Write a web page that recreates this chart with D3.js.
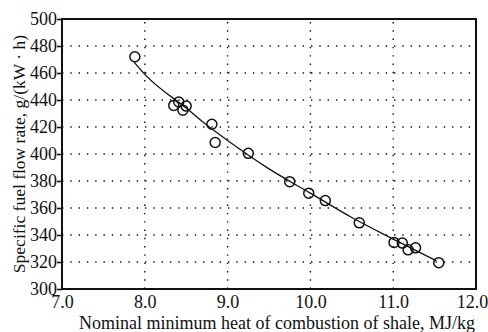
<!DOCTYPE html>
<html lang="en">
<head>
    <meta charset="UTF-8">
    <title>Specific fuel flow rate</title>
    <script src="https://cdn.jsdelivr.net/npm/d3@7"></script>
    <style>
        body { margin: 0; background: #fff; }
        text { font-family: "Liberation Serif", "DejaVu Serif", serif; fill: #111; }
        .grid line { stroke: #111; stroke-width: 1.4px; stroke-dasharray: 1.4 6.9; }
        .point { fill: none; stroke: #111; stroke-width: 1.5px; }
        .fit { fill: none; stroke: #111; stroke-width: 1.3px; }
    </style>
</head>
<body>
<div id="chart"></div>
<script>
    // measured points
    const heat = [7.88, 8.35, 8.41, 8.46, 8.50, 8.81, 8.85, 9.25, 9.75, 9.98, 10.18, 10.59, 11.01, 11.11, 11.18, 11.27, 11.55];
    const flowRate = [472, 436, 438.5, 432.5, 435.5, 422, 408.5, 400.5, 379.5, 371, 365.5, 349, 334.5, 334, 329, 330.5, 319.5];

    // approximating curve
    const fitX = [7.87, 8.0, 8.5, 8.8, 9.0, 9.5, 10.0, 10.5, 11.0, 11.52];
    const fitY = [468, 459, 434, 419, 410, 389, 371, 353, 337, 321];

    const xTicks = [7, 8, 9, 10, 11, 12];
    const yTicks = [300, 320, 340, 360, 380, 400, 420, 440, 460, 480, 500];

    const W = 488, H = 332;
    const margin = { top: 19, right: 12, bottom: 43, left: 62 };
    const w = W - margin.left - margin.right,
        h = H - margin.top - margin.bottom;

    const svg = d3.select('#chart').append('svg')
        .attr('width', W)
        .attr('height', H);

    const g = svg.append('g')
        .attr('transform', `translate(${margin.left},${margin.top})`);

    const x = d3.scaleLinear().domain([7, 12]).range([0, w]);
    const y = d3.scaleLinear().domain([300, 500]).range([h, 0]);

    // dotted grid
    const grid = g.append('g').attr('class', 'grid');
    grid.selectAll('.gx')
        .data(xTicks.slice(1, -1))
        .enter().append('line')
        .attr('x1', d => x(d)).attr('x2', d => x(d))
        .attr('y1', h).attr('y2', 0);
    grid.selectAll('.gy')
        .data(yTicks.slice(1, -1))
        .enter().append('line')
        .attr('x1', 0).attr('x2', w)
        .attr('y1', d => y(d)).attr('y2', d => y(d));

    // axes
    const xAxis = g.append('g')
        .attr('transform', `translate(0,${h})`)
        .call(d3.axisBottom(x).tickValues(xTicks).tickFormat(d3.format('.1f')).tickSize(0).tickPadding(6));
    const yAxis = g.append('g')
        .call(d3.axisLeft(y).tickValues(yTicks).tickSize(5).tickPadding(0));

    [xAxis, yAxis].forEach(a => {
        a.select('.domain').remove();
        a.selectAll('text').style('font-size', '18px').attr('fill', '#111');
        a.selectAll('line').attr('stroke', '#111').attr('stroke-width', 1.6);
    });
    // last x label sits a little left so it stays inside the picture
    xAxis.selectAll('.tick').filter(d => d === 12).select('text').attr('dx', -4);

    // frame
    g.append('rect')
        .attr('width', w).attr('height', h)
        .attr('fill', 'none')
        .attr('stroke', '#111')
        .attr('stroke-width', 2);

    // fit curve
    const line = d3.line()
        .x(d => x(d[0]))
        .y(d => y(d[1]))
        .curve(d3.curveMonotoneX);
    g.append('path')
        .attr('class', 'fit')
        .attr('d', line(d3.zip(fitX, fitY)));

    // points
    g.selectAll('.point')
        .data(d3.zip(heat, flowRate))
        .enter().append('circle')
        .attr('class', 'point')
        .attr('cx', d => x(d[0]))
        .attr('cy', d => y(d[1]))
        .attr('r', 5);

    // axis titles
    svg.append('text')
        .attr('x', margin.left + w / 2 + 8)
        .attr('y', 329)
        .attr('text-anchor', 'middle')
        .style('font-size', '18px')
        .text('Nominal minimum heat of combustion of shale, MJ/kg');

    svg.append('text')
        .attr('transform', `translate(25,${margin.top + h / 2}) rotate(-90)`)
        .attr('text-anchor', 'middle')
        .style('font-size', '17.5px')
        .text('Specific fuel flow rate, g/(kW · h)');
</script>
</body>
</html>
